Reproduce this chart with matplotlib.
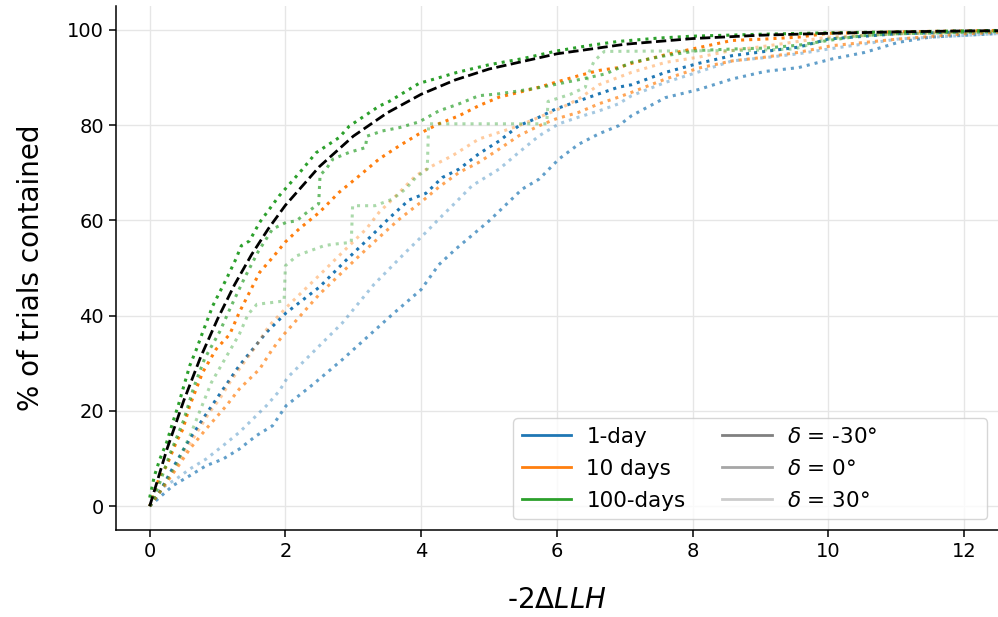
import matplotlib
matplotlib.use('Agg')
import matplotlib.pyplot as plt
from matplotlib.lines import Line2D

# --- Data ---
# expected curve (black dashed)
ref_x = [0, 0.25, 0.5, 0.75, 1.0, 1.25, 1.5, 1.75, 2.0, 2.5, 3.0, 3.5, 4.0, 4.5, 5.0, 6.0, 7.0, 8.0, 9.0, 10.0, 11.0, 12.0, 13.0]
ref_y = [0, 11.8, 22.1, 31.3, 39.3, 46.5, 52.8, 58.3, 63.2, 71.3, 77.7, 82.6, 86.5, 89.5, 91.8, 95.0, 97.0, 98.2, 98.9, 99.3, 99.6, 99.8, 99.9]

# 1-day
b_m30_x = [0, 0.15, 0.3, 0.59, 0.83, 1.05, 1.32, 1.52, 1.72, 2.01, 2.5, 2.89, 3.24, 3.53, 3.82, 4.07, 4.31, 4.56, 4.85, 5.15, 5.44, 5.74, 5.98, 6.32, 6.62, 6.91, 7.1, 7.6, 8.09, 8.58, 9.07, 9.56, 10.0, 11.0, 12.0, 13.0]
b_m30_y = [0, 3, 7, 14.1, 19.3, 23.9, 29.5, 33, 36.5, 40.6, 46.0, 51.6, 56.4, 60.5, 64.3, 65.7, 69, 70.8, 74, 76.7, 79.9, 81.7, 83.4, 85.1, 86.6, 88, 88.5, 91.1, 93.0, 94.6, 95.5, 96.4, 98.1, 99.2, 99.6, 99.9]
b_0_x = [0, 0.34, 0.59, 0.83, 1.08, 1.32, 1.57, 1.81, 2.01, 2.4, 2.84, 3.57, 4.0, 4.26, 4.51, 5.0, 5.49, 5.74, 6.03, 6.32, 6.62, 6.91, 7.1, 7.6, 8.09, 8.58, 9.07, 9.56, 10.05, 10.54, 11.03, 11.5, 12.45, 13.0]
b_0_y = [0, 4.3, 6.4, 8.5, 9.9, 12, 14.8, 16.9, 21.1, 25.5, 30.8, 40.2, 45.5, 50.7, 54, 59.9, 66.6, 68.7, 72.9, 76, 78.2, 79.9, 82, 85.8, 87.5, 89.7, 91.3, 92.1, 93.9, 95.3, 97.4, 98.5, 99.2, 99.5]
b_30_x = [0, 0.15, 0.39, 0.59, 0.83, 1.08, 1.32, 1.57, 1.72, 1.91, 2.03, 2.84, 3.3, 3.77, 4.07, 4.31, 4.53, 4.75, 5.15, 5.44, 5.74, 6.03, 6.32, 6.62, 6.91, 7.1, 7.6, 8.09, 8.58, 9.07, 9.56, 10.0, 11.03, 12.45, 13.0]
b_30_y = [0, 3.6, 5.7, 7.8, 9.9, 12.7, 15.5, 19, 21.1, 24.2, 27, 38.5, 46.5, 53.3, 57.5, 61, 64.1, 67.3, 70.8, 74.3, 77.8, 80.3, 81.7, 83, 84.5, 86.2, 89, 91.2, 93.5, 94.2, 95, 96, 98.1, 99.2, 99.5]

# 10 days
o_m30_x = [0, 0.15, 0.25, 0.39, 0.49, 0.59, 0.78, 0.98, 1.18, 1.32, 1.47, 1.62, 1.81, 2.0, 2.2, 2.5, 2.79, 3.09, 3.38, 3.68, 3.97, 4.26, 4.56, 4.85, 5.15, 5.44, 5.74, 5.98, 6.32, 6.62, 6.91, 7.1, 7.6, 8.09, 8.58, 9.07, 9.56, 10.0, 11.0, 12.0, 13.0]
o_m30_y = [0, 6.4, 8.5, 13.4, 16.2, 21.1, 28.1, 33.0, 36.1, 40.7, 44.9, 49.1, 52.2, 55.5, 58.2, 61.7, 65.9, 69.4, 72.9, 75.7, 78.2, 80.3, 82.0, 84.1, 85.9, 86.9, 88.0, 89.0, 90.4, 91.5, 92.1, 93.0, 94.8, 96.3, 97.8, 98.1, 98.5, 99.3, 99.6, 99.8, 100]
o_0_x = [0, 0.2, 0.4, 0.59, 0.83, 1.13, 1.32, 1.62, 1.81, 1.96, 2.5, 3.09, 3.43, 3.68, 4.02, 4.26, 4.56, 4.85, 5.15, 5.44, 5.74, 5.98, 6.32, 6.62, 6.91, 7.1, 7.6, 8.09, 8.58, 9.07, 9.56, 10.05, 11.03, 12.0, 13.0]
o_0_y = [0, 4, 8, 12, 16.2, 21.1, 24.6, 28.8, 33, 35.8, 44.5, 52.6, 57.1, 60.3, 64.1, 67.0, 70.1, 72.2, 75.0, 77.8, 79.9, 81.3, 82.7, 84.5, 85.9, 86.9, 89.7, 92.0, 93.5, 94.3, 95.3, 96.7, 98.1, 99.2, 99.8]
o_30_x = [0, 0.2, 0.5, 0.88, 1.03, 1.18, 1.32, 1.57, 1.76, 2.06, 2.5, 2.84, 3.19, 3.38, 3.63, 3.92, 4.17, 4.46, 4.85, 5.15, 5.44, 5.74, 6.03, 6.32, 6.62, 7.1, 7.6, 8.09, 8.58, 9.07, 10.0, 11.0, 12.0, 13.0]
o_30_y = [0, 4, 11, 19.7, 22.5, 26, 28.8, 33.7, 37.9, 42.4, 48.5, 53.3, 58.2, 61.7, 65.2, 69.4, 71.5, 73.6, 77.1, 78.5, 79.9, 81.7, 83.4, 85.5, 88.5, 91.1, 93.2, 94.3, 95.7, 96.6, 98.5, 99.2, 99.6, 99.9]

# 100-days
g_m30_x = [0, 0.07, 0.15, 0.25, 0.34, 0.42, 0.49, 0.59, 0.69, 0.78, 0.93, 1.13, 1.27, 1.35, 1.47, 1.62, 1.91, 2.23, 2.45, 2.79, 2.94, 3.38, 3.53, 3.97, 4.22, 4.53, 5.0, 5.5, 6.0, 6.5, 6.91, 7.5, 8.0, 9.0, 10.0, 11.0, 12.0, 13.0]
g_m30_y = [1.8, 6.4, 9.9, 13.4, 17.6, 21.1, 24.6, 29.5, 33.0, 36.5, 42.1, 47.7, 51.9, 54.7, 55.7, 59.6, 65.2, 70.4, 74.2, 77.4, 79.8, 84.0, 85.0, 88.8, 89.8, 91.1, 92.7, 94.0, 95.6, 96.8, 97.6, 98.3, 98.7, 99.1, 99.4, 99.6, 99.8, 100]
g_0_x = [0, 0.15, 0.3, 0.5, 0.65, 0.81, 1.03, 1.2, 1.4, 1.6, 1.81, 2.01, 2.16, 2.3, 2.49, 2.51, 2.6, 2.7, 2.94, 3.18, 3.2, 3.43, 3.68, 3.97, 4.26, 4.56, 4.85, 5.15, 5.44, 5.78, 6.37, 6.72, 7.1, 7.6, 8.09, 8.58, 9.07, 9.56, 10.0, 10.5, 11.0, 12.0, 13.0]
g_0_y = [0, 5, 11, 18, 25, 31, 36.6, 42, 48, 53.5, 58.2, 59.6, 59.9, 61.5, 63.5, 69.5, 70.8, 72.9, 74.3, 75.3, 77.7, 78.8, 79.5, 80.7, 83.0, 84.5, 86.2, 86.6, 87.2, 88.0, 89.7, 90.8, 93.2, 94.6, 95.7, 96.0, 96.2, 96.8, 97.8, 98.8, 99.2, 99.5, 99.8]
g_30_x = [0, 0.15, 0.4, 0.6, 0.74, 0.91, 1.08, 1.32, 1.45, 1.58, 1.82, 1.98, 2.0, 2.17, 2.3, 2.57, 2.7, 2.97, 2.99, 3.32, 3.58, 3.77, 3.92, 4.09, 4.11, 5.85, 5.87, 6.2, 6.42, 6.47, 6.55, 6.7, 8.8, 9.5, 10.0, 10.5, 11.0, 12.0, 13.0]
g_30_y = [0, 3, 9, 15, 20, 26, 30.2, 36.1, 40.3, 42.4, 42.8, 43.1, 50.5, 52.6, 53.3, 54.7, 55.0, 55.4, 63.1, 63.1, 64.5, 66.6, 69.0, 70.8, 80.3, 80.3, 85.0, 86.5, 88.0, 91.0, 93.5, 95.5, 95.7, 96.0, 98.1, 98.8, 99.2, 99.5, 99.8]

durations = ['1-day', '10 days', '100-days']
declinations = [r'$\delta$ = -30°', r'$\delta$ = 0°', r'$\delta$ = 30°']
colors = ['tab:blue', 'tab:orange', 'tab:green']
alphas = [1.0, 0.7, 0.4]
legend_grays = ['#808080', '#a6a6a6', '#cccccc']

series = [
    [(b_m30_x, b_m30_y), (b_0_x, b_0_y), (b_30_x, b_30_y)],
    [(o_m30_x, o_m30_y), (o_0_x, o_0_y), (o_30_x, o_30_y)],
    [(g_m30_x, g_m30_y), (g_0_x, g_0_y), (g_30_x, g_30_y)],
]

fig, ax = plt.subplots(figsize=(9.98, 6.17), dpi=100)
fig.subplots_adjust(left=0.116, right=1.0, top=0.99, bottom=0.141)

for color, curves in zip(colors, series):
    for alpha, (xs, ys) in zip(alphas, curves):
        ax.plot(xs, ys, ls=':', lw=2.2, color=color, alpha=alpha)

ax.plot(ref_x, ref_y, ls='--', lw=2, color='k')

ax.set_xlim(-0.5, 12.5)
ax.set_ylim(-5, 105)
ax.set_xticks([0, 2, 4, 6, 8, 10, 12])
ax.set_yticks([0, 20, 40, 60, 80, 100])
ax.grid(True, color='#e6e6e6', lw=1)
ax.set_axisbelow(True)
ax.spines['top'].set_visible(False)
ax.spines['right'].set_visible(False)
ax.spines['left'].set_linewidth(1.1)
ax.spines['bottom'].set_linewidth(1.1)
ax.tick_params(labelsize=14, length=5, width=1.1)

ax.set_xlabel(r'-2$\Delta LLH$', fontsize=20, labelpad=18)
ax.set_ylabel('% of trials contained', fontsize=20, labelpad=16)

# legend: colours for durations, greys for declinations, plus a blank column
handles = [Line2D([], [], color=c, lw=2) for c in colors]
handles += [Line2D([], [], color=g, lw=2) for g in legend_grays]
handles += [Line2D([], [], color='none') for _ in range(3)]
labels = durations + declinations + ['', '', '']
ax.legend(handles, labels, loc='lower right', ncol=3, fontsize=15.5,
          handlelength=2.3, labelspacing=0.55, columnspacing=1.7,
          handletextpad=0.7)

fig.savefig('out.png', dpi=100)
